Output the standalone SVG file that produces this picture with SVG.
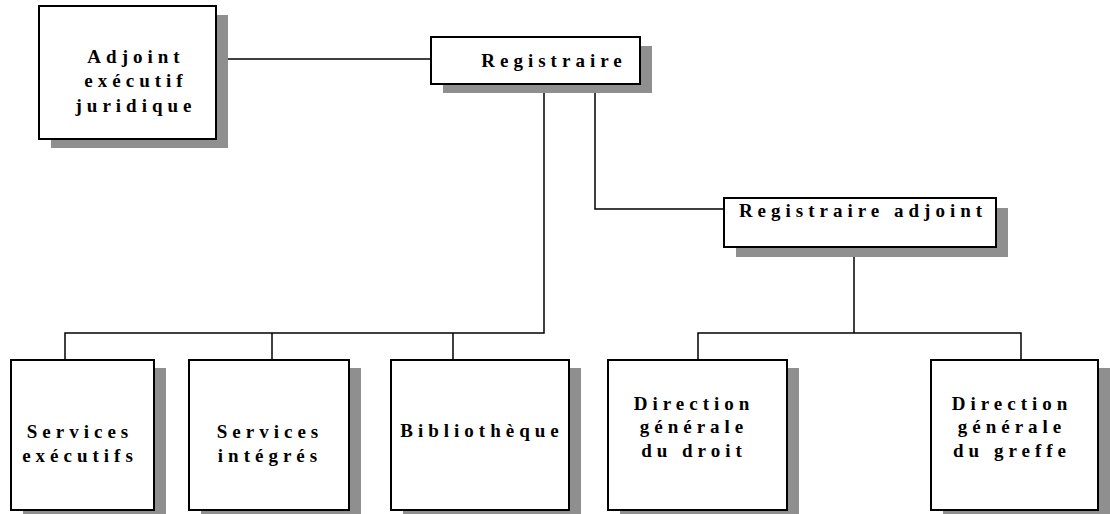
<svg xmlns="http://www.w3.org/2000/svg" width="1110" height="514" viewBox="0 0 1110 514">
<style>
.sh{fill:#8f8f8f;stroke:none}
.bx{fill:#fff;stroke:#000;stroke-width:2}
.t{font-size:19px;letter-spacing:5px;text-anchor:middle;fill:#000}
.c{fill:none;stroke:#000;stroke-width:1.5}
</style>
<rect width="1110" height="514" fill="#fff"/>
<g id="connectors">
<path class="c" d="M216,59 H431"/>
<path class="c" d="M544,84 V333 H65 V360"/>
<path class="c" d="M272,333 V360"/>
<path class="c" d="M453,333 V360"/>
<path class="c" d="M595,84 V209 H724"/>
<path class="c" d="M854,247 V333"/>
<path class="c" d="M698,360 V333 H1021 V360"/>
</g>
<g font-family="Liberation Serif, DejaVu Serif, serif" font-weight="bold">
<g id="adjoint">
<rect class="sh" x="51" y="15" width="177" height="133"/>
<rect class="bx" x="39" y="6" width="177" height="133"/>
<text class="t" x="136" y="63">Adjoint</text>
<text class="t" x="136" y="87">exécutif</text>
<text class="t" x="136" y="112">juridique</text>
</g>
<g id="registraire">
<rect class="sh" x="443" y="46" width="209" height="47"/>
<rect class="bx" x="431" y="37" width="209" height="47"/>
<text class="t" x="554" y="67">Registraire</text>
</g>
<g id="registraire-adjoint">
<rect class="sh" x="736" y="208" width="272" height="49"/>
<rect class="bx" x="724" y="198" width="272" height="49"/>
<text class="t" x="863" y="217">Registraire adjoint</text>
</g>
<g id="services-executifs">
<rect class="sh" x="23" y="368" width="143" height="150"/>
<rect class="bx" x="11" y="360" width="143" height="150"/>
<text class="t" x="80" y="438">Services</text>
<text class="t" x="80" y="462">exécutifs</text>
</g>
<g id="services-integres">
<rect class="sh" x="201" y="368" width="160" height="150"/>
<rect class="bx" x="189" y="360" width="160" height="150"/>
<text class="t" x="270" y="438">Services</text>
<text class="t" x="270" y="462">intégrés</text>
</g>
<g id="bibliotheque">
<rect class="sh" x="403" y="368" width="178" height="150"/>
<rect class="bx" x="391" y="360" width="178" height="150"/>
<text class="t" x="482" y="437">Bibliothèque</text>
</g>
<g id="direction-droit">
<rect class="sh" x="620" y="368" width="179" height="150"/>
<rect class="bx" x="608" y="360" width="179" height="150"/>
<text class="t" x="694" y="410">Direction</text>
<text class="t" x="694" y="433">générale</text>
<text class="t" x="694" y="457">du droit</text>
</g>
<g id="direction-greffe">
<rect class="sh" x="943" y="368" width="167" height="150"/>
<rect class="bx" x="931" y="360" width="167" height="150"/>
<text class="t" x="1012" y="410">Direction</text>
<text class="t" x="1012" y="433">générale</text>
<text class="t" x="1012" y="457">du greffe</text>
</g>
</g>
</svg>
